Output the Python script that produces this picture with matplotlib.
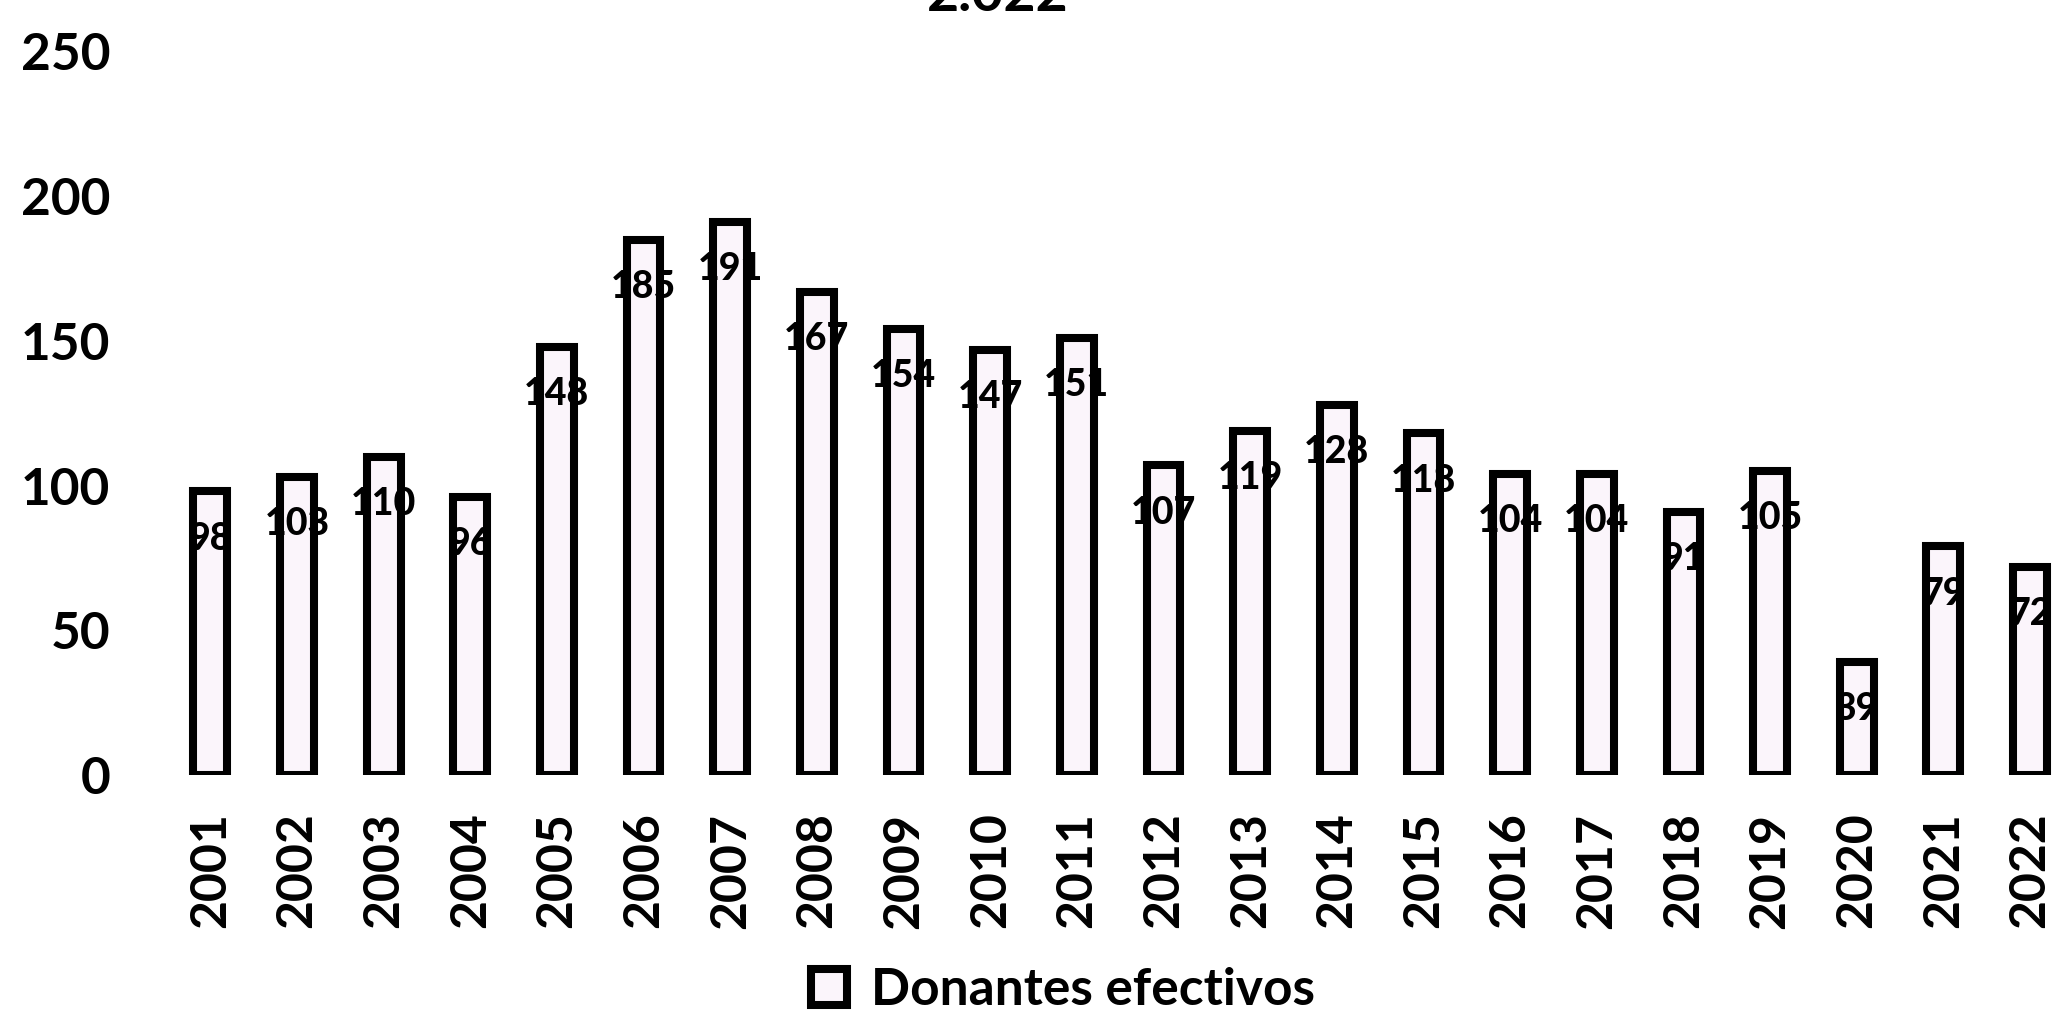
"""
Donantes efectivos por año, 2001-2022 (gráfico de barras).
"""
import numpy as np
import matplotlib
matplotlib.use("Agg")
import matplotlib.pyplot as plt

matplotlib.rcParams["font.family"] = ["Lato", "DejaVu Sans"]
matplotlib.rcParams["font.weight"] = "bold"

# ========== datos ==========
years = [str(y) for y in range(2001, 2023)]
donantes = [98, 103, 110, 96, 148, 185, 191, 167, 154, 147, 151,
            107, 119, 128, 118, 104, 104, 91, 105, 39, 79, 72]
yticks = [0, 50, 100, 150, 200, 250]
title = "2.022"
serie = "Donantes efectivos"

W, H, DPI = 2056, 1021, 100


def main():
    fig = plt.figure(figsize=(W / DPI, H / DPI), dpi=DPI)
    ax = fig.add_axes([167 / W, 1 - 775 / H, 1 - 167 / W, (775 - 8) / H])

    x = np.arange(len(years))
    bars = ax.bar(x, donantes, width=0.39, color="#fbf5fb",
                  edgecolor="black", linewidth=5.8, label=serie)

    # etiquetas dentro de cada barra, un poco por debajo del borde superior
    for b, v in zip(bars, donantes):
        ax.annotate(str(v), (b.get_x() + b.get_width() / 2, v),
                    xytext=(0, -34), textcoords="offset points",
                    ha="center", va="center", fontsize=27,
                    fontweight=900, color="black")

    ax.set_xlim(-0.5, 21.3)
    ax.set_ylim(0, 265)
    ax.set_xticks(x)
    ax.set_xticklabels(years, rotation=90, fontsize=36, fontweight="bold")
    ax.set_yticks(yticks)
    ax.set_yticklabels([str(t) for t in yticks], fontsize=37, fontweight="bold")
    ax.tick_params(axis="x", length=0, pad=27)
    ax.tick_params(axis="y", length=0, pad=41)
    for s in ax.spines.values():
        s.set_visible(False)

    # título cortado en el borde superior (como en el escaneo)
    fig.text(998 / W, 1 - 11 / H, title, ha="center", va="baseline",
             fontsize=40, fontweight="bold")

    fig.legend(handles=[bars], labels=[serie], loc="center",
               bbox_to_anchor=(1063 / W, 1 - 990 / H), frameon=False,
               handlelength=0.7, handleheight=0.7, handletextpad=0.45,
               prop={"weight": "bold", "size": 37})

    fig.savefig("out.png", dpi=DPI)
    plt.close(fig)


if __name__ == "__main__":
    main()
